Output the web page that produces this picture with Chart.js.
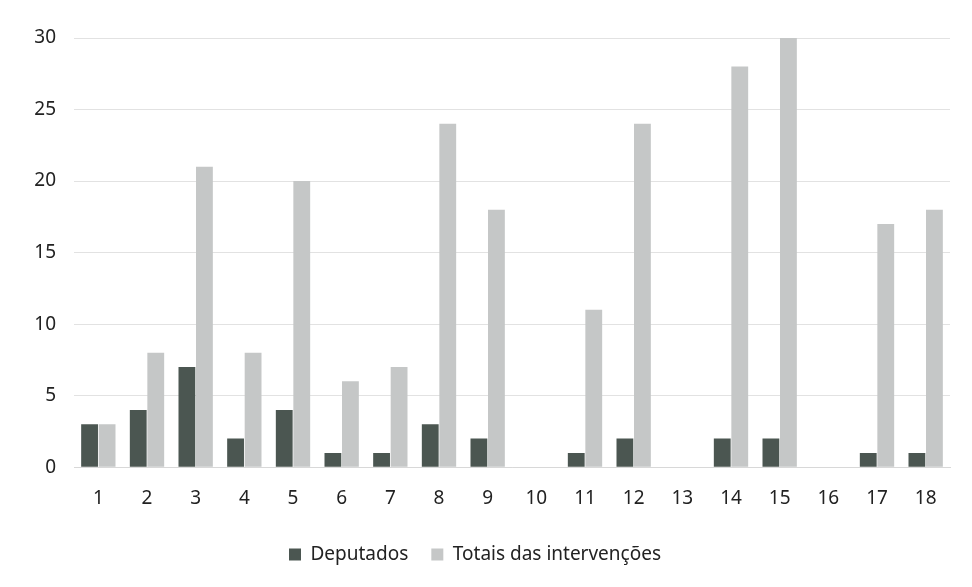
<!DOCTYPE html>
<html>
<head>
<meta charset="utf-8">
<script src="https://cdn.jsdelivr.net/npm/chart.js@4"></script>
<style>
  html, body { margin: 0; padding: 0; background: #fff; }
  #wrap { width: 972px; height: 587px; }
</style>
</head>
<body>
<div id="wrap"><canvas id="grafico" width="972" height="587"></canvas></div>
<script>
var sessoes = ["1","2","3","4","5","6","7","8","9","10","11","12","13","14","15","16","17","18"];
var deputados = [3,4,7,2,4,1,1,3,2,0,1,2,0,2,2,0,1,1];
var totais = [3,8,21,8,20,6,7,24,18,0,11,24,0,28,30,0,17,18];

var ctx = document.getElementById('grafico').getContext('2d');
var grafico = new Chart(ctx, {
    type: 'bar',
    data: {
        labels: sessoes,
        datasets: [{
            label: 'Deputados',
            data: deputados,
            backgroundColor: '#4b5651'
        }, {
            label: 'Totais das intervenções',
            data: totais,
            backgroundColor: '#c5c7c7'
        }]
    },
    options: {
        responsive: false,
        animation: false,
        layout: { padding: { top: 38, right: 22, bottom: 13, left: 0 } },
        datasets: {
            bar: { categoryPercentage: 0.72, barPercentage: 0.96 }
        },
        plugins: {
            legend: {
                position: 'bottom',
                labels: {
                    color: '#222',
                    font: { family: 'Noto Sans', size: 19 },
                    boxWidth: 12, boxHeight: 12, padding: 23
                }
            },
            tooltip: { enabled: false }
        },
        scales: {
            x: {
                grid: { display: false },
                border: { color: '#d8d8d8' },
                ticks: { color: '#222', font: { family: 'Noto Sans', size: 19 }, padding: 12 }
            },
            y: {
                min: 0, max: 30,
                afterFit: function (s) { s.width = 74; },
                grid: { color: '#e2e2e2', drawTicks: false },
                border: { display: false },
                ticks: { stepSize: 5, color: '#222', font: { family: 'Noto Sans', size: 19 }, padding: 18 }
            }
        }
    }
});
</script>
</body>
</html>
